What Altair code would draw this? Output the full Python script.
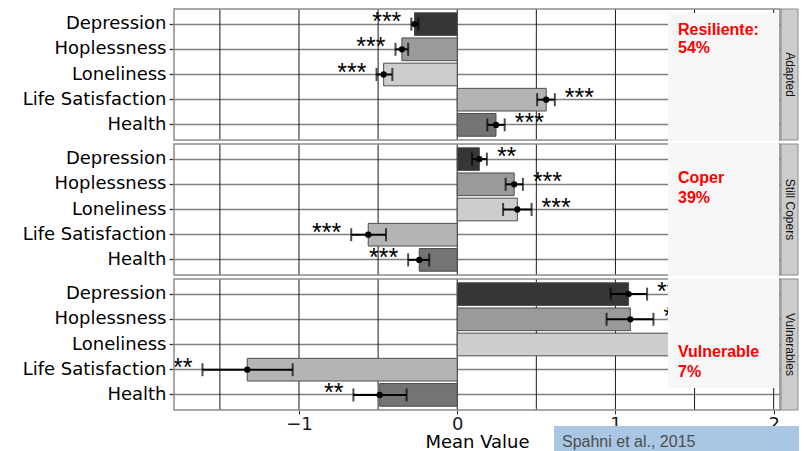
import altair as alt
import pandas as pd

groups = ["Adapted", "Still Copers", "Vulnerables"]
measures = ["Depression", "Hoplessness", "Loneliness", "Life Satisfaction", "Health"]
bar_colors = ["#363636", "#9a9a9a", "#cdcdcd", "#b4b4b4", "#747474"]

adapted_mean = [-0.27, -0.35, -0.465, 0.5625, 0.245]
adapted_lo = [-0.29, -0.39, -0.51, 0.505, 0.19]
adapted_hi = [-0.245, -0.31, -0.41, 0.617, 0.30]
adapted_sig = ["***", "***", "***", "***", "***"]

copers_mean = [0.14, 0.36, 0.38, -0.5625, -0.24]
copers_lo = [0.094, 0.306, 0.29, -0.67, -0.31]
copers_hi = [0.1875, 0.415, 0.47, -0.45, -0.177]
copers_sig = ["**", "***", "***", "***", "***"]

vuln_mean = [1.083, 1.094, 1.60, -1.327, -0.49]
vuln_lo = [0.97, 0.944, 1.45, -1.61, -0.656]
vuln_hi = [1.20, 1.24, 1.75, -1.04, -0.32]
vuln_sig = ["***", "***", "***", "***", "**"]

group_labels = [["Resiliente:", "54%"], ["Coper", "39%"], ["Vulnerable", "7%"]]
grid_values = [-1.5, -1.0, -0.5, 0.0, 0.5, 1.0, 1.5, 2.0]
tick_values = [-1, 0, 1, 2]
x_domain = [-1.79, 2.04]
source_note = "Spahni et al., 2015"

W, H = 606, 131
FONT = "DejaVu Sans"
label_pos = [(26, 44), (39, 59), (78, 98)]
BOX_L = 494


def panel(idx, mean, lo, hi, sig, bottom):
    df = pd.DataFrame({"measure": measures, "mean": mean, "lo": lo, "hi": hi, "sig": sig})
    base = alt.Chart(df)
    xscale = alt.Scale(domain=x_domain, nice=False, zero=False)
    if bottom:
        xaxis = alt.Axis(values=tick_values, format="d", grid=False, domain=False,
                         tickSize=4, tickColor="#333333", labelFont=FONT, labelFontSize=18,
                         labelColor="#1a1a1a", labelPadding=1, title="Mean Value",
                         titleFont=FONT, titleFontSize=18, titleFontWeight="normal",
                         titleColor="#000000", titlePadding=0)
    else:
        xaxis = None
    yenc = alt.Y("measure:N", sort=measures, title=None,
                 scale=alt.Scale(domain=measures, paddingInner=0.1, paddingOuter=0.15),
                 axis=alt.Axis(grid=True, bandPosition=0.5, gridColor="#808080", gridWidth=1.3,
                               domain=False, tickSize=5, tickColor="#333333", tickWidth=1.3,
                               labelFont=FONT, labelFontSize=18, labelColor="#000000",
                               labelPadding=3))

    grid = alt.Chart(pd.DataFrame({"v": grid_values})).mark_rule(
        color="#1a1a1a", strokeWidth=1).encode(
        x=alt.X("v:Q", scale=xscale, axis=xaxis))

    bars = base.mark_bar(stroke="#4d4d4d", strokeWidth=1, clip=True).encode(
        x=alt.X("mean:Q", scale=xscale, axis=xaxis),
        y=yenc,
        color=alt.Color("measure:N", scale=alt.Scale(domain=measures, range=bar_colors), legend=None),
    )
    err = base.mark_rule(color="black", strokeWidth=2, clip=True).encode(
        x="lo:Q", x2="hi:Q", y=yenc)
    caps = base.transform_fold(["lo", "hi"], as_=["end", "val"]).mark_tick(
        color="black", thickness=2, size=13, clip=True).encode(
        x="val:Q", y=yenc)
    pts = base.mark_point(filled=True, color="black", size=40, opacity=1, clip=True).encode(
        x="mean:Q", y=yenc)
    stars_pos = base.transform_filter("datum.mean > 0").mark_text(
        align="left", baseline="middle", dx=10, dy=-2, font="Liberation Sans", fontSize=25,
        color="black", clip=True).encode(x="hi:Q", y=yenc, text="sig:N")
    stars_neg = base.transform_filter("datum.mean < 0").mark_text(
        align="right", baseline="middle", dx=-10, dy=-2, font="Liberation Sans", fontSize=25,
        color="black", clip=True).encode(x="lo:Q", y=yenc, text="sig:N")

    one = alt.Chart(pd.DataFrame({"a": [0]}))
    border = one.mark_rect(filled=False, stroke="#8c8c8c", strokeWidth=1.5).encode(
        x=alt.value(0), x2=alt.value(W), y=alt.value(0), y2=alt.value(H))
    top = 4 if idx == 0 else -1
    bot = 109 if idx == 2 else H + 1
    box = one.mark_rect(fill="#f7f7f7", stroke=None).encode(
        x=alt.value(BOX_L), x2=alt.value(W - 1), y=alt.value(top), y2=alt.value(bot))
    l1 = alt.Chart(pd.DataFrame({"t": [group_labels[idx][0]]})).mark_text(
        align="left", baseline="alphabetic", font="Liberation Sans", fontSize=16,
        fontWeight="bold", color="#ff0000").encode(
        x=alt.value(BOX_L + 10), y=alt.value(label_pos[idx][0]), text="t:N")
    l2 = alt.Chart(pd.DataFrame({"t": [group_labels[idx][1]]})).mark_text(
        align="left", baseline="alphabetic", font="Liberation Sans", fontSize=16,
        fontWeight="bold", color="#ff0000").encode(
        x=alt.value(BOX_L + 10), y=alt.value(label_pos[idx][1]), text="t:N")
    strip = one.mark_rect(fill="#cccccc", stroke="#8c8c8c", strokeWidth=1).encode(
        x=alt.value(W + 1), x2=alt.value(W + 18), y=alt.value(0), y2=alt.value(H))
    strip_txt = alt.Chart(pd.DataFrame({"g": [groups[idx]]})).mark_text(
        angle=90, align="center", baseline="middle", font="Liberation Sans", fontSize=12,
        color="#111111").encode(
        x=alt.value(W + 9.5), y=alt.value(H / 2), text="g:N")

    layers = [grid, bars, err, caps, pts, stars_pos, stars_neg, border, box, l1, l2, strip, strip_txt]
    if bottom:
        note_box = one.mark_rect(fill="#a9c7e4", stroke=None).encode(
            x=alt.value(380), x2=alt.value(W + 19), y=alt.value(147), y2=alt.value(175))
        note = alt.Chart(pd.DataFrame({"t": [source_note]})).mark_text(
            align="left", baseline="alphabetic", font="Liberation Sans", fontSize=16,
            color="#4d4d4d").encode(x=alt.value(388), y=alt.value(168), text="t:N")
        layers += [note_box, note]
    return alt.layer(*layers).properties(width=W, height=H)


p1 = panel(0, adapted_mean, adapted_lo, adapted_hi, adapted_sig, False)
p2 = panel(1, copers_mean, copers_lo, copers_hi, copers_sig, False)
p3 = panel(2, vuln_mean, vuln_lo, vuln_hi, vuln_sig, True)

chart = alt.vconcat(p1, p2, p3, spacing=2).properties(
    padding={"left": 14, "top": 0, "right": 0, "bottom": 0},
    background="white",
).configure_view(stroke=None)

chart.save("out.html", embed_options={"renderer": "svg", "actions": False})
